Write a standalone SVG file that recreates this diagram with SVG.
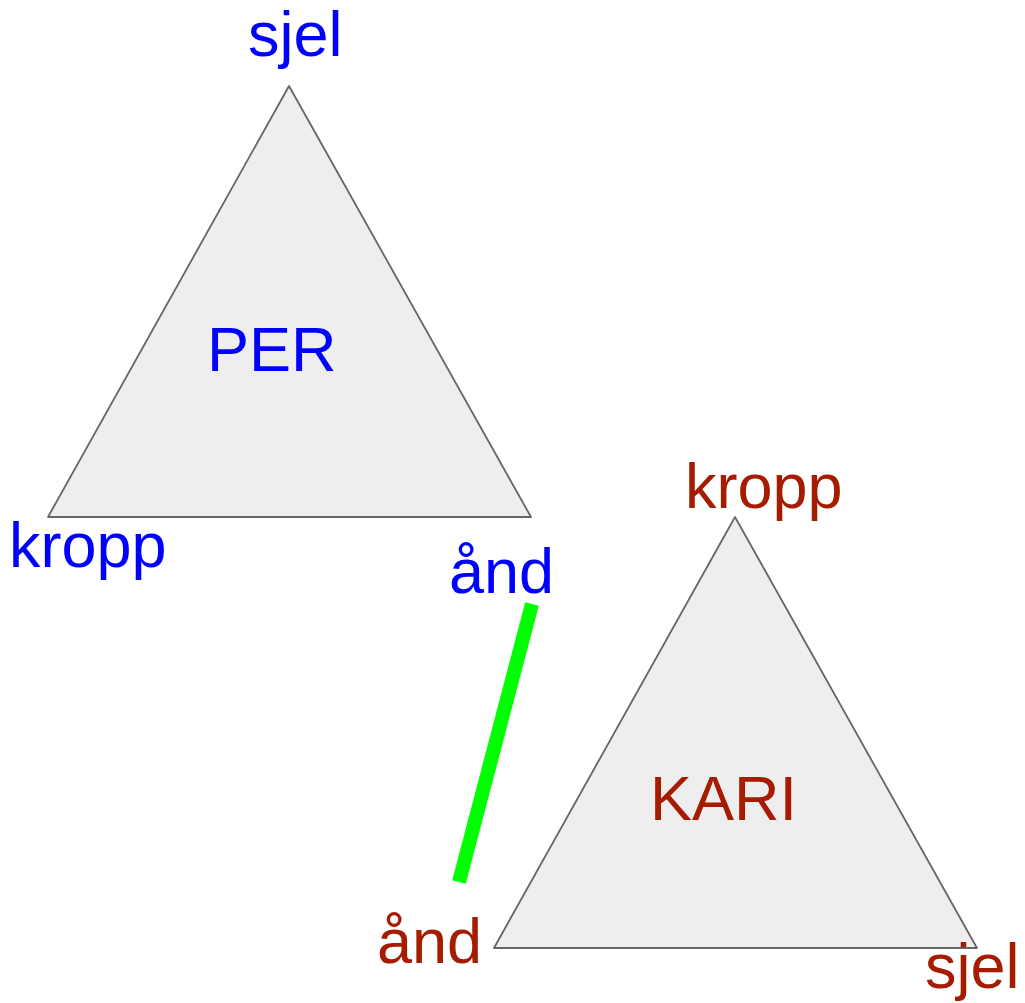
<svg xmlns="http://www.w3.org/2000/svg" width="1025" height="1003" viewBox="0 0 1025 1003">
<style>
.tri{fill:#eeeeee;stroke:#666666;stroke-width:1.8;stroke-linejoin:round}
text{font-family:"Liberation Sans",Arial,sans-serif;font-size:63px}
.b{fill:#0000ff}
.r{fill:#a61c00}
</style>
<rect width="1025" height="1003" fill="#ffffff"/>
<g id="per">
<polygon class="tri" points="289,86 48,517 531,517"/>
<text class="b" x="207" y="371">PER</text>
<text class="b" x="248" y="56">sjel</text>
<text class="b" x="9" y="567">kropp</text>
<text class="b" x="449" y="593">ånd</text>
</g>
<g id="kari">
<polygon class="tri" points="735,517 494,948 977,948"/>
<text class="r" x="650" y="820">KARI</text>
<text class="r" x="685" y="508">kropp</text>
<text class="r" x="377" y="963">ånd</text>
<text class="r" x="925" y="988">sjel</text>
</g>
<g id="connectors">
<line x1="532" y1="604" x2="459" y2="882" stroke="#00ff00" stroke-width="14"/>
</g>
</svg>
